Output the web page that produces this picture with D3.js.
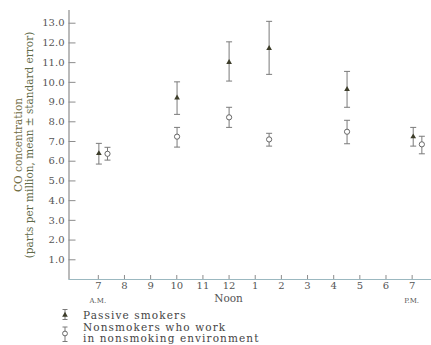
<!DOCTYPE html>
<html><head><meta charset="utf-8">
<script src="https://cdn.jsdelivr.net/npm/d3@7"></script>
<style>
html,body{margin:0;padding:0;background:#fff;}
text{font-family:"DejaVu Serif","Liberation Serif",serif;}
</style></head>
<body><svg id="chart" width="431" height="345"></svg>
<script>
// Data
const hourTicks = [7, 8, 9, 10, 11, 12, 13, 14, 15, 16, 17, 18, 19];
const hourLabels = ["7","8","9","10","11","12","1","2","3","4","5","6","7"];
const yTicks = [1,2,3,4,5,6,7,8,9,10,11,12,13];

const passiveTime  = [7.04, 10.03, 12.02, 13.55, 16.53, 19.06];
const passiveMean  = [6.37, 9.19, 10.99, 11.70, 9.62, 7.22];
const passiveLow   = [5.83, 8.35, 10.04, 10.38, 8.71, 6.74];
const passiveHigh  = [6.88, 10.0, 12.03, 13.07, 10.53, 7.69];

const nonTime  = [7.37, 10.03, 12.02, 13.55, 16.53, 19.39];
const nonMean  = [6.35, 7.22, 8.20, 7.08, 7.47, 6.83];
const nonLow   = [6.03, 6.69, 7.69, 6.74, 6.86, 6.35];
const nonHigh  = [6.68, 7.69, 8.71, 7.39, 8.05, 7.24];

const periodLabels = [{h:7, t:"A.M.", small:true}, {h:12, t:"Noon", small:false}, {h:19, t:"P.M.", small:true}];
const yTitle1 = "CO concentration";
const yTitle2 = "(parts per million, mean \u00b1 standard error)";
const legendLabels = ["Passive smokers", "Nonsmokers who work", "in nonsmoking environment"];

const svg = d3.select("#chart");
const x = d3.scaleLinear().domain([5.86, 19.74]).range([68, 431]);
const y = d3.scaleLinear().domain([0, 13.67]).range([279, 9.5]);

const axisColor = "#8c8c8c";
const textColor = "#555";

// Y axis
const gy = svg.append("g").attr("transform", "translate(68.5,0)")
  .call(d3.axisLeft(y).tickValues(yTicks).tickFormat(d3.format(".1f")).tickSizeInner(-7).tickSizeOuter(0).tickPadding(4));
gy.select(".domain").attr("stroke", axisColor).attr("stroke-width", 1.2);
gy.selectAll(".tick line").attr("stroke", axisColor);
gy.selectAll(".tick text").attr("fill", textColor).attr("font-size", 10).attr("font-family", "DejaVu Serif");

// X axis
const gx = svg.append("g").attr("transform", "translate(0,279)")
  .call(d3.axisBottom(x).tickValues(hourTicks).tickFormat((d,i)=>hourLabels[i]).tickSizeInner(-4).tickSizeOuter(0).tickPadding(3));
gx.select(".domain").attr("stroke", "#9bb8c0").attr("stroke-width", 1.2);
gx.selectAll(".tick line").attr("stroke", axisColor);
gx.selectAll(".tick text").attr("fill", textColor).attr("font-size", 10).attr("font-family", "DejaVu Serif");

// Period labels
svg.selectAll("text.period").data(periodLabels).join("text")
  .attr("class","period")
  .attr("x", d => x(d.h)).attr("y", d => d.small ? 303 : 301.5)
  .attr("text-anchor","middle")
  .attr("font-size", d => d.small ? 7 : 10.5)
  .attr("fill", textColor)
  .text(d => d.t);

// Y title
const yt = svg.append("g").attr("transform", "translate(22,145) rotate(-90)");
yt.append("text").attr("text-anchor","middle").attr("y", 0).attr("font-size", 10.5).attr("fill", "#6f6b3f").attr("font-family","Liberation Serif").text(yTitle1);
yt.append("text").attr("text-anchor","middle").attr("y", 11).attr("font-size", 10.5).attr("fill", "#5f6b48").attr("font-family","Liberation Serif").text(yTitle2);

// Error bars
const barColor = "#7a7a7a";
function errBars(times, lows, highs, cls) {
  const g = svg.append("g").attr("class", cls);
  const data = times.map((t,i)=>({t, lo:lows[i], hi:highs[i]}));
  g.selectAll("line.v").data(data).join("line").attr("class","v")
    .attr("x1", d=>x(d.t)).attr("x2", d=>x(d.t)).attr("y1", d=>y(d.lo)).attr("y2", d=>y(d.hi))
    .attr("stroke", barColor).attr("stroke-width", 1);
  g.selectAll("line.ct").data(data).join("line").attr("class","ct")
    .attr("x1", d=>x(d.t)-3).attr("x2", d=>x(d.t)+3).attr("y1", d=>y(d.hi)).attr("y2", d=>y(d.hi))
    .attr("stroke", barColor).attr("stroke-width", 1);
  g.selectAll("line.cb").data(data).join("line").attr("class","cb")
    .attr("x1", d=>x(d.t)-3).attr("x2", d=>x(d.t)+3).attr("y1", d=>y(d.lo)).attr("y2", d=>y(d.lo))
    .attr("stroke", barColor).attr("stroke-width", 1);
}
errBars(passiveTime, passiveLow, passiveHigh, "pbars");
errBars(nonTime, nonLow, nonHigh, "nbars");

const tri = d3.symbol().type(d3.symbolTriangle).size(14);
svg.selectAll("path.pm").data(passiveTime.map((t,i)=>({t, v:passiveMean[i]}))).join("path")
  .attr("class","pm").attr("d", tri)
  .attr("transform", d=>`translate(${x(d.t)},${y(d.v)})`).attr("fill", "#3d3d2a");
svg.selectAll("circle.nm").data(nonTime.map((t,i)=>({t, v:nonMean[i]}))).join("circle")
  .attr("class","nm").attr("cx", d=>x(d.t)).attr("cy", d=>y(d.v)).attr("r", 2.6)
  .attr("fill", "#fff").attr("stroke", "#666").attr("stroke-width", 1);

// Legend
const lg = svg.append("g");
const lx = 65;
function legendBar(cx, y1, y2) {
  lg.append("line").attr("x1",cx).attr("x2",cx).attr("y1",y1).attr("y2",y2).attr("stroke",barColor);
  lg.append("line").attr("x1",cx-2.5).attr("x2",cx+2.5).attr("y1",y1).attr("y2",y1).attr("stroke",barColor);
  lg.append("line").attr("x1",cx-2.5).attr("x2",cx+2.5).attr("y1",y2).attr("y2",y2).attr("stroke",barColor);
}
legendBar(lx, 309.5, 319.5);
lg.append("path").attr("d", tri).attr("transform", `translate(${lx},315)`).attr("fill","#3d3d2a");
legendBar(lx, 327, 341.5);
lg.append("circle").attr("cx", lx).attr("cy", 333.5).attr("r", 2.4).attr("fill","#fff").attr("stroke","#666");

const legendY = [319, 331, 341.8];
lg.selectAll("text.leg").data(legendLabels).join("text").attr("class","leg")
  .attr("x", 83).attr("y", (d,i)=>legendY[i])
  .attr("font-size", 10.5).attr("letter-spacing", 1.1)
  .attr("fill", "#444").attr("font-family","Liberation Serif").text(d=>d);
</script></body></html>
